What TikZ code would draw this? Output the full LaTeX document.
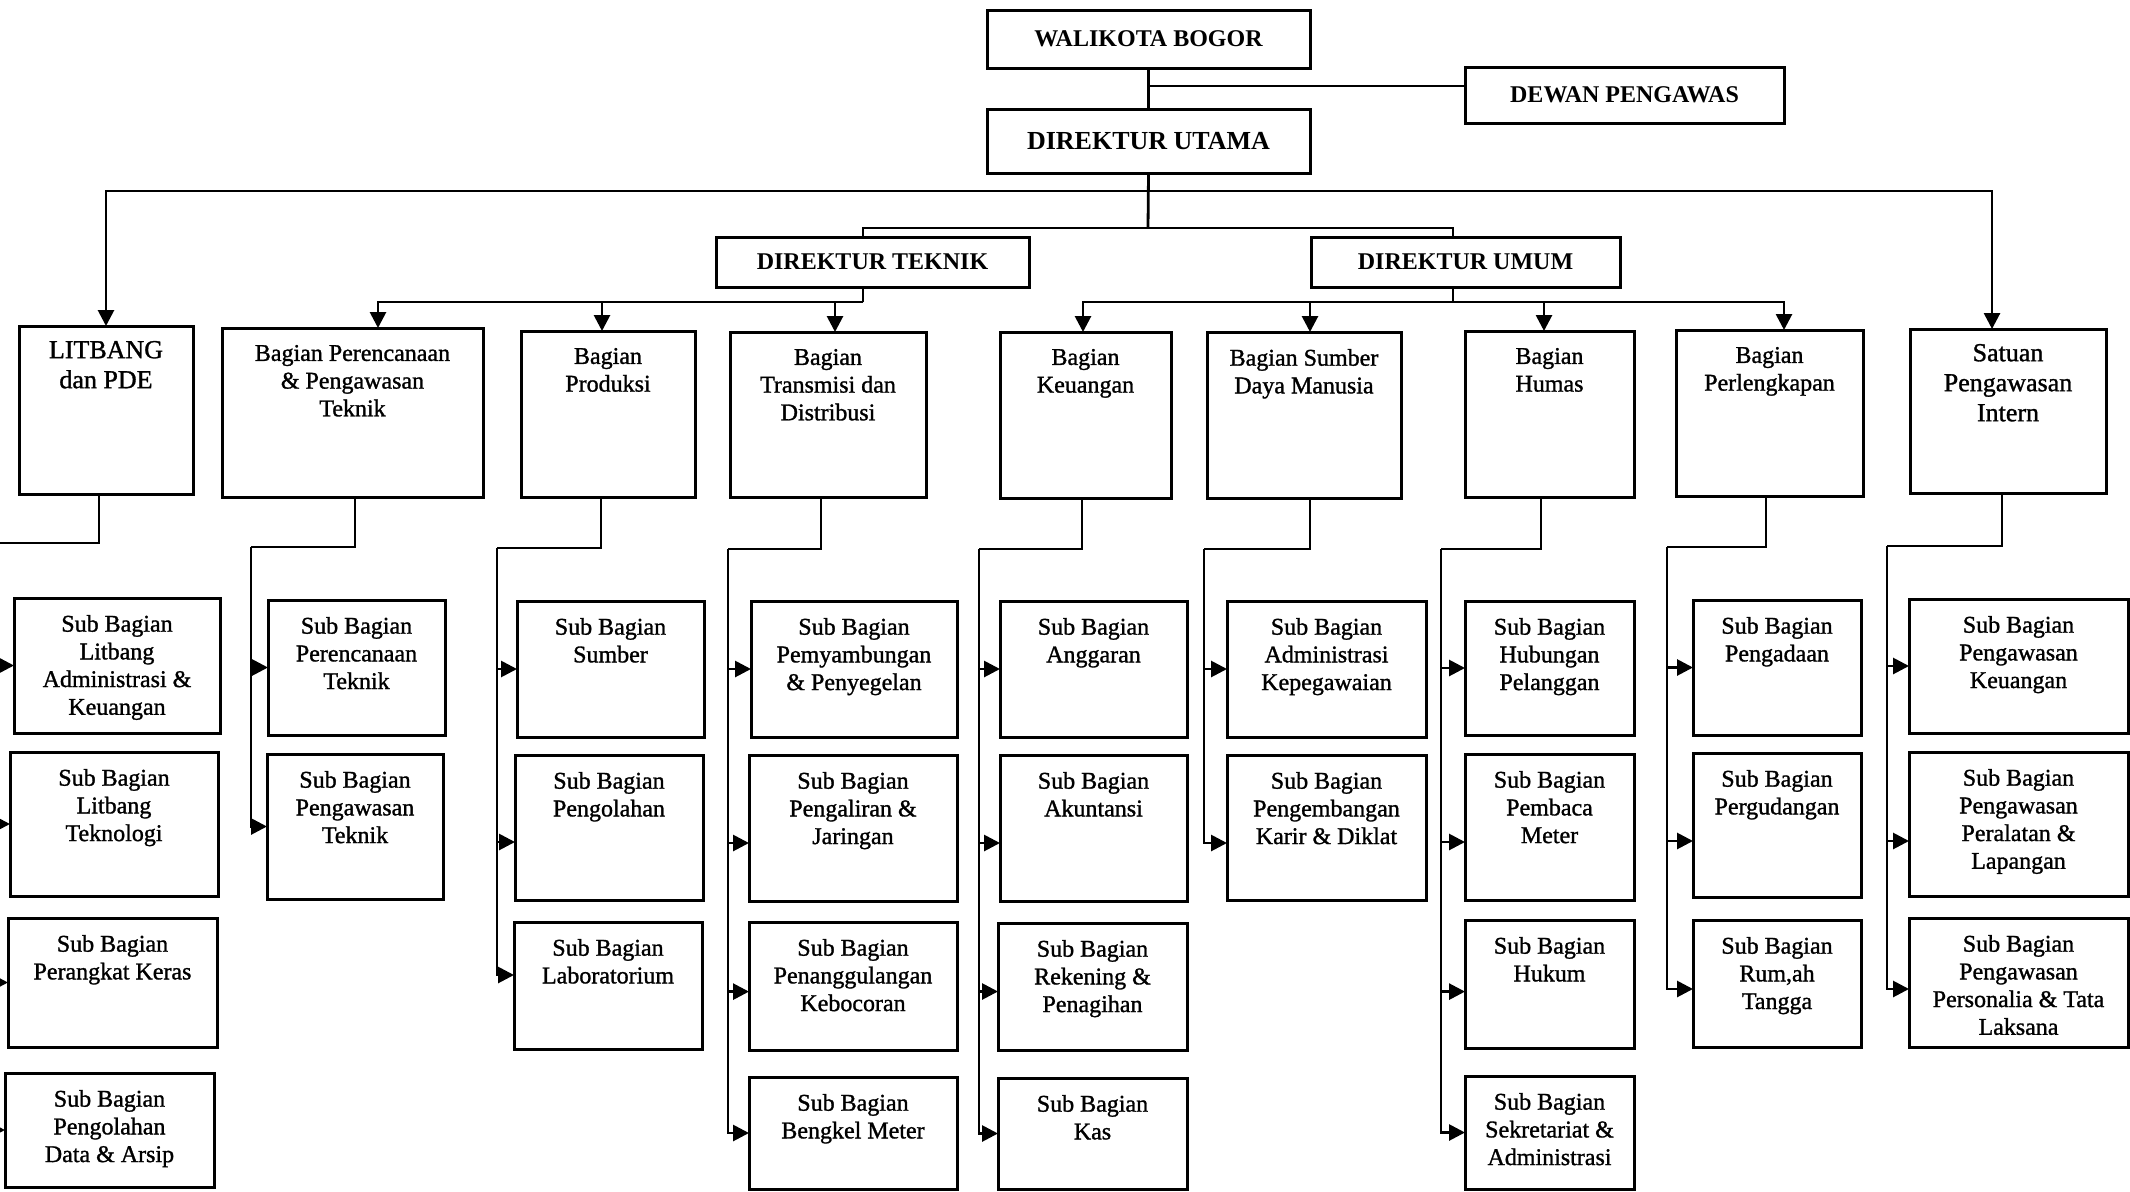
\documentclass[tikz,border=0pt]{standalone}
\usepackage{fontspec}
\setmainfont{Liberation Serif}
\newfontfamily\heavy{Liberation Serif}[FakeBold=1.2]
\usetikzlibrary{arrows.meta}
\tikzset{
  box/.style={draw, line width=3pt, inner sep=0pt, outer sep=0pt},
  titlebox/.style={box, font=\fontsize{24}{28}\selectfont\bfseries},
  conn/.style={line width=2.8pt},
  arr/.style={line width=2.8pt, -{Triangle[length=16pt,width=16pt]}},
}
\newcommand\fa{\heavy\fontsize{24}{27.7}\selectfont\vspace*{17pt}}
\newcommand\fb{\heavy\fontsize{26}{30}\selectfont\vspace*{15pt}}
% name x1 y1 x2 y2 font text
\newcommand\bx[7]{\node[box, anchor=north west] (#1) at (#2,#3) {\begin{minipage}[t][\dimexpr #5pt-#3pt\relax][t]{\dimexpr #4pt-#2pt\relax}\centering#6#7\par\end{minipage}};}
% name x1 y1 x2 y2 fontsize text
\newcommand\tbx[7]{\node[titlebox, anchor=north west, minimum width={#4-#2}, minimum height={#5-#3}, font=\fontsize{#6}{#6}\selectfont\bfseries] (#1) at (#2,#3) {#7};}

\begin{document}
\begin{tikzpicture}[x=1pt,y=-1pt]
\path[use as bounding box, fill=white] (0,0) rectangle (2130,1191);
\clip (0,0) rectangle (2130,1191);

% top level
\tbx{wal}{987}{10}{1310}{68}{24}{WALIKOTA BOGOR}
\tbx{dew}{1465}{67}{1784}{123}{24}{DEWAN PENGAWAS}
\tbx{du}{987}{109}{1310}{173}{26}{DIREKTUR UTAMA}
\tbx{dt}{716}{237}{1029}{287}{24}{DIREKTUR TEKNIK}
\tbx{dum}{1311}{237}{1620}{287}{24}{DIREKTUR UMUM}

% bagian row
\bx{lit}{19}{326}{193}{494}{\fb}{LITBANG\\dan PDE}
\bx{ppt}{222}{328}{483}{497}{\fa}{Bagian Perencanaan\\\& Pengawasan\\Teknik}
\bx{prod}{521}{331}{695}{497}{\fa}{Bagian\\Produksi}
\bx{trans}{730}{332}{926}{497}{\fa}{Bagian\\Transmisi dan\\Distribusi}
\bx{keu}{1000}{332}{1171}{498}{\fa}{Bagian\\Keuangan}
\bx{sdm}{1207}{332}{1401}{498}{\fa}{Bagian Sumber\\Daya Manusia}
\bx{hum}{1465}{331}{1634}{497}{\fa}{Bagian\\Humas}
\bx{perl}{1676}{330}{1863}{496}{\fa}{Bagian\\Perlengkapan}
\bx{spi}{1910}{329}{2106}{493}{\fb}{Satuan\\Pengawasan\\Intern}

% sub bagian
\bx{l1}{14}{598}{220}{733}{\fa}{Sub Bagian\\Litbang\\Administrasi \&\\Keuangan}
\bx{l2}{10}{752}{218}{896}{\fa}{Sub Bagian\\Litbang\\Teknologi}
\bx{l3}{8}{918}{217}{1047}{\fa}{Sub Bagian\\Perangkat Keras}
\bx{l4}{5}{1073}{214}{1187}{\fa}{Sub Bagian\\Pengolahan\\Data \& Arsip}

\bx{p1}{268}{600}{445}{735}{\fa}{Sub Bagian\\Perencanaan\\Teknik}
\bx{p2}{267}{754}{443}{899}{\fa}{Sub Bagian\\Pengawasan\\Teknik}

\bx{s1}{517}{601}{704}{737}{\fa}{Sub Bagian\\Sumber}
\bx{s2}{515}{755}{703}{900}{\fa}{Sub Bagian\\Pengolahan}
\bx{s3}{514}{922}{702}{1049}{\fa}{Sub Bagian\\Laboratorium}

\bx{t1}{751}{601}{957}{737}{\fa}{Sub Bagian\\Pemyambungan\\\& Penyegelan}
\bx{t2}{749}{755}{957}{901}{\fa}{Sub Bagian\\Pengaliran \&\\Jaringan}
\bx{t3}{749}{922}{957}{1050}{\fa}{Sub Bagian\\Penanggulangan\\Kebocoran}
\bx{t4}{749}{1077}{957}{1189}{\fa}{Sub Bagian\\Bengkel Meter}

\bx{k1}{1000}{601}{1187}{737}{\fa}{Sub Bagian\\Anggaran}
\bx{k2}{1000}{755}{1187}{901}{\fa}{Sub Bagian\\Akuntansi}
\bx{k3}{998}{923}{1187}{1050}{\fa}{Sub Bagian\\Rekening \&\\Penagihan}
\bx{k4}{998}{1078}{1187}{1189}{\fa}{Sub Bagian\\Kas}

\bx{d1}{1227}{601}{1426}{737}{\fa}{Sub Bagian\\Administrasi\\Kepegawaian}
\bx{d2}{1227}{755}{1426}{900}{\fa}{Sub Bagian\\Pengembangan\\Karir \& Diklat}

\bx{h1}{1465}{601}{1634}{735}{\fa}{Sub Bagian\\Hubungan\\Pelanggan}
\bx{h2}{1465}{754}{1634}{900}{\fa}{Sub Bagian\\Pembaca\\Meter}
\bx{h3}{1465}{920}{1634}{1048}{\fa}{Sub Bagian\\Hukum}
\bx{h4}{1465}{1076}{1634}{1189}{\fa}{Sub Bagian\\Sekretariat \&\\Administrasi}

\bx{g1}{1693}{600}{1861}{735}{\fa}{Sub Bagian\\Pengadaan}
\bx{g2}{1693}{753}{1861}{897}{\fa}{Sub Bagian\\Pergudangan}
\bx{g3}{1693}{920}{1861}{1047}{\fa}{Sub Bagian\\Rum,ah\\Tangga}

\bx{i1}{1909}{599}{2128}{733}{\fa}{Sub Bagian\\Pengawasan\\Keuangan}
\bx{i2}{1909}{752}{2128}{896}{\fa}{Sub Bagian\\Pengawasan\\Peralatan \&\\Lapangan}
\bx{i3}{1909}{918}{2128}{1047}{\fa}{Sub Bagian\\Pengawasan\\Personalia \& Tata\\Laksana}

% top connectors
\coordinate (cw) at (1148,86);
\coordinate (c1) at (1148,191);
\coordinate (c2) at (1148,228);
\draw[conn] (wal.south) -- (du.north);
\draw[conn] (cw) -- (cw -| dew.west);
\draw[conn] (du.south) -- (c2);
\draw[arr] (c1) -| (lit.north);
\draw[arr] (c1) -| ([xshift=-16pt]spi.north);
\draw[conn] (c2) -| ([xshift=-9.5pt]dt.north);
\draw[conn] (c2) -| ([xshift=-12.5pt]dum.north);

% direktur teknik
\coordinate (tb) at (863,302);
\draw[conn] ([xshift=-9.5pt]dt.south) -- (tb);
\draw[arr] (tb) -| ([xshift=25.5pt]ppt.north);
\draw[arr] (tb) -| ([xshift=-6pt]prod.north);
\draw[arr] (tb) -| ([xshift=7pt]trans.north);

% direktur umum
\coordinate (ub) at (1453,302);
\draw[conn] ([xshift=-12.5pt]dum.south) -- (ub);
\draw[arr] (ub) -| ([xshift=-2.5pt]keu.north);
\draw[arr] (ub) -| ([xshift=6pt]sdm.north);
\draw[arr] (ub) -| ([xshift=-5.5pt]hum.north);
\draw[arr] (ub) -| ([xshift=14.5pt]perl.north);

% litbang
\coordinate (lb) at (-8,543);
\draw[conn] ([xshift=-7pt]lit.south) |- (lb);
\foreach \n in {l1,l2,l3,l4} \draw[arr] (lb) |- (\n.west);

% perencanaan
\coordinate (pb) at (251,547);
\draw[conn] ([xshift=2.5pt]ppt.south) |- (pb);
\draw[arr] (pb) |- (p1.west);
\draw[arr] (pb) |- (p2.west);

% produksi
\coordinate (sb) at (497,548);
\draw[conn] ([xshift=-7pt]prod.south) |- (sb);
\draw[arr] (sb) |- (s1.west);
\draw[arr] (sb) |- ([yshift=-14.5pt]s2.west);
\draw[arr] (sb) |- ([yshift=10.5pt]s3.west);

% transmisi
\coordinate (trb) at (728,549);
\draw[conn] ([xshift=-7pt]trans.south) |- (trb);
\draw[arr] (trb) |- (t1.west);
\draw[arr] (trb) |- ([yshift=-15pt]t2.west);
\draw[arr] (trb) |- ([yshift=-5.6pt]t3.west);
\draw[arr] (trb) |- (t4.west);

% keuangan
\coordinate (kb) at (979,549);
\draw[conn] ([xshift=-3.5pt]keu.south) |- (kb);
\draw[arr] (kb) |- (k1.west);
\draw[arr] (kb) |- ([yshift=-15pt]k2.west);
\draw[arr] (kb) |- ([yshift=-5pt]k3.west);
\draw[arr] (kb) |- (k4.west);

% sdm
\coordinate (db) at (1204,549);
\draw[conn] ([xshift=6pt]sdm.south) |- (db);
\draw[arr] (db) |- (d1.west);
\draw[arr] (db) |- ([yshift=-15.5pt]d2.west);

% humas
\coordinate (hb) at (1441,549);
\draw[conn] ([xshift=-8.5pt]hum.south) |- (hb);
\draw[arr] (hb) |- (h1.west);
\draw[arr] (hb) |- ([yshift=-15pt]h2.west);
\draw[arr] (hb) |- ([yshift=-7.6pt]h3.west);
\draw[arr] (hb) |- (h4.west);

% perlengkapan
\coordinate (gb) at (1667,547);
\draw[conn] ([xshift=-3.5pt]perl.south) |- (gb);
\draw[arr] (gb) |- (g1.west);
\draw[arr] (gb) |- ([yshift=-16pt]g2.west);
\draw[arr] (gb) |- ([yshift=-5.5pt]g3.west);

% satuan pengawasan intern
\coordinate (ib) at (1887,546);
\draw[conn] ([xshift=-6pt]spi.south) |- (ib);
\draw[arr] (ib) |- (i1.west);
\draw[arr] (ib) |- ([yshift=-17pt]i2.west);
\draw[arr] (ib) |- ([yshift=-6.5pt]i3.west);
\end{tikzpicture}
\end{document}
